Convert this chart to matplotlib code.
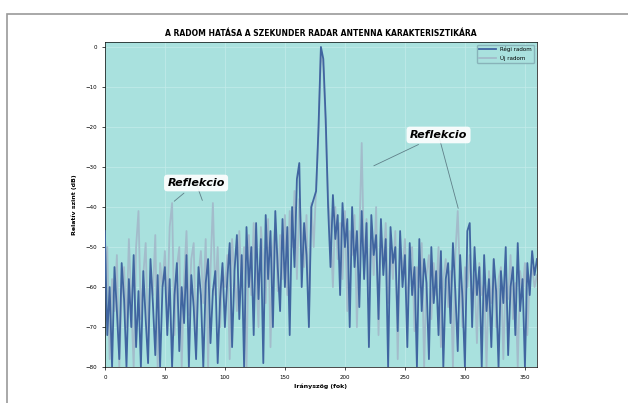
import numpy as np
import matplotlib.pyplot as plt
from matplotlib.patches import Rectangle

# antenna pattern, 2 degree steps from 0 to 360, relative level in dB
regi_radom = [
    -46, -72, -60, -80, -55, -66, -78, -54, -63, -80, -58, -70, -52, -75, -61, -80, -56, -68, -79, -53, -64, -77, -57, -80, -60, -55,
    -72, -58, -80, -62, -54, -76, -60, -69, -52, -80, -57, -65, -78, -55, -62, -80, -59, -53, -74, -61, -56, -79, -63, -54, -70,
    -58, -49, -75, -56, -47, -68, -52, -80, -45, -60, -50, -72, -44, -63, -48, -79, -42, -58, -46, -70, -41, -55, -66, -43, -60,
    -45, -72, -40, -55, -33, -29, -60, -44, -52, -70, -40, -38, -36, -20,
    0, -3, -18, -40,
    -55, -37, -48, -42, -62, -39, -50, -43, -70, -40, -55, -46, -65, -41, -58, -44, -75, -42, -52, -47, -68, -43, -57, -48, -80, -45, -54, -50, -71, -46, -60, -52,
    -75, -49, -62, -55, -80, -48, -66, -53, -59, -78, -50, -64, -56, -72, -51, -80, -58, -54, -69, -49, -61, -76, -52, -63, -80,
    -46, -44, -70, -50, -62, -55, -80, -52, -66, -58, -75, -53, -61, -80, -56, -64, -50, -77, -60, -55, -72, -49, -66, -58, -80, -54, -62, -51, -57, -53,
]
uj_radom = [
    -60, -50, -78, -58, -66, -52, -80, -62, -55, -70, -48, -64, -80, -50, -41, -68, -57, -49, -75, -56, -62, -47, -80, -54, -60, -51,
    -66, -45, -39, -72, -55, -50, -80, -58, -46, -67, -53, -49, -76, -57, -51, -64, -48, -80, -56, -39, -62, -50, -70, -55, -60,
    -52, -78, -48, -57, -66, -46, -59, -50, -80, -47, -62, -44, -56, -70, -45, -53, -64, -43, -75, -50, -44, -61, -47, -58, -42,
    -62, -41, -50, -36, -58, -38, -46, -55, -42, -68, -39, -50, -35, -22,
    -1, -5, -20, -38,
    -45, -60, -40, -53, -44, -58, -41, -66, -46, -52, -42, -70, -48, -24, -55, -43, -62, -45, -57, -40, -72, -47, -54, -44, -64, -49, -58, -46, -78, -51, -56, -48,
    -66, -53, -50, -71, -55, -60, -49, -80, -57, -52, -68, -54, -62, -50, -75, -58, -53, -65, -56, -80, -52, -41, -59, -70, -55,
    -60, -52, -66, -57, -74, -54, -62, -59, -80, -56, -64, -53, -70, -58, -55, -78, -57, -63, -52, -68, -59, -80, -56, -61, -54, -72, -58, -55, -60, -57,
]
szog = np.arange(0, 2 * len(regi_radom), 2)

x_ticks = [0, 50, 100, 150, 200, 250, 300, 350]
y_ticks = [0, -10, -20, -30, -40, -50, -60, -70, -80]

fig = plt.figure(figsize=(6.28, 4.03), dpi=100)
fig.patches.append(Rectangle((0.011, -0.01), 1.0, 0.976, transform=fig.transFigure,
                             fill=False, edgecolor='#9a9a9a', linewidth=1.2))
ax = fig.add_axes([0.167, 0.089, 0.688, 0.807])
ax.set_facecolor('#a9e1de')

ax.plot(szog, uj_radom, color='#a3bccb', linewidth=1.3, label='Új radom', zorder=2)
ax.plot(szog, regi_radom, color='#4065a0', linewidth=1.3, label='Régi radom', zorder=3)

ax.set_xlim(0, 360)
ax.set_ylim(-80, 1.25)
ax.set_xticks(x_ticks)
ax.set_yticks(y_ticks)
ax.tick_params(labelsize=4, length=2, width=0.5)
ax.grid(True, color='#c4ecea', linewidth=0.5)
for s in ax.spines.values():
    s.set_linewidth(0.5)

ax.set_title('A RADOM HATÁSA A SZEKUNDER RADAR ANTENNA KARAKTERISZTIKÁRA',
             fontsize=5.5, fontweight='bold', pad=4)
ax.set_xlabel('Irányszög (fok)', fontsize=4.5, fontweight='bold', labelpad=3)
ax.set_ylabel('Relatív szint (dB)', fontsize=4.5, fontweight='bold', labelpad=6)

h, l = ax.get_legend_handles_labels()
ax.legend(h[::-1], l[::-1], loc='upper right', fontsize=4, frameon=True,
          facecolor='#a9e1de', edgecolor='#80a8b0', handlelength=3)

bbox = dict(boxstyle='round,pad=0.3', fc='white', ec='none', alpha=0.9)
arrow = dict(arrowstyle='-', color='#5f7f88', linewidth=0.6)
ax.annotate('Reflekcio', xy=(56, -39), xytext=(76, -34), fontsize=8,
            fontweight='bold', style='italic', ha='center', va='center',
            bbox=bbox, arrowprops=arrow, zorder=5)
ax.annotate('', xy=(82, -39), xytext=(76, -34), arrowprops=arrow)
ax.annotate('Reflekcio', xy=(222, -30), xytext=(278, -22), fontsize=8,
            fontweight='bold', style='italic', ha='center', va='center',
            bbox=bbox, arrowprops=arrow, zorder=5)
ax.annotate('', xy=(295, -41), xytext=(278, -22), arrowprops=arrow)

fig.savefig('out.png', dpi=100)
